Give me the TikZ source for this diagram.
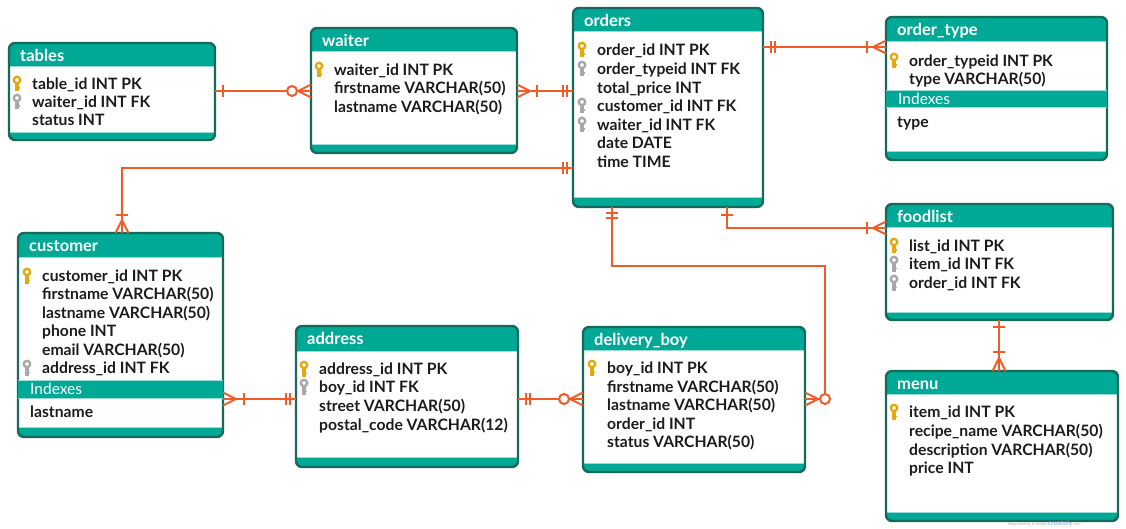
\documentclass[tikz,border=0pt]{standalone}
\usepackage{fontspec}
\setmainfont{Lato}
\usetikzlibrary{calc}
\definecolor{hdr}{HTML}{00A896}
\definecolor{bord}{HTML}{17695A}
\definecolor{rel}{HTML}{F15A29}
\definecolor{keyg}{HTML}{E3A911}
\definecolor{keyf}{HTML}{A8A8A8}
\definecolor{txt}{HTML}{1C1C1C}
\definecolor{sepc}{HTML}{9ADBD3}
\definecolor{wmblue}{HTML}{7FA7D6}
\tikzset{
  erline/.style={draw=rel, line width=2pt},
  outline/.style={draw=bord, line width=2.4pt, rounded corners=6pt, inner sep=0pt, outer sep=0pt},
  hdrtext/.style={text=white, font=\fontsize{16.5}{18}\selectfont\bfseries, anchor=base west, inner sep=0pt},
  fldtext/.style={text=txt, font=\fontsize{15.7}{18}\selectfont\bfseries, anchor=base west, inner sep=0pt},
  idxtext/.style={text=white, font=\fontsize{15.5}{17}\selectfont, anchor=base west, inner sep=0pt},
  wmtext/.style={text=black!30, font=\fontsize{4}{5}\selectfont, anchor=base west, inner sep=0pt},
}
% table: name, x1, y1, x2, y2, header bottom, bottom band top, title
\newcommand\ertab[8]{%
  \fill[hdr, rounded corners=6pt] (#2,#3) rectangle (#4,#5);
  \fill[white] (#2,#6) rectangle (#4,#7);
  \draw[sepc, line width=1pt] (#2,#6) -- (#4,#6) (#2,#7) -- (#4,#7);
  \node[outline, anchor=north west, minimum width={(#4-#2)*1pt}, minimum height={(#5-#3)*1pt}] (#1) at (#2,#3) {};
  \node[hdrtext] (#1-title) at ({#2+11},{#3+18.5}) {#8};
}
% index band: name, x1, x2, y1, y2
\newcommand\eridx[5]{%
  \fill[hdr] (#2,#4) rectangle (#3,#5);
  \draw[sepc, line width=1pt] (#2,#4) -- (#3,#4) (#2,#5) -- (#3,#5);
  \node[idxtext] (#1) at ({#2+12},{#5-3.5}) {Indexes};
}
\newcommand\erkey[3]{%
  \draw[#1, line width=2.4pt] ({#2},{#3-4}) circle[radius=3.2];
  \fill[#1] ({#2-1.6},{#3-1}) rectangle ({#2+1.6},{#3+7.5});
  \fill[#1] ({#2+1.6},{#3+3.5}) rectangle ({#2+3.2},{#3+5.3});
}
% field: node name, text x, row centre y, key (0 none,1 pk,2 fk), text
\newcommand\erfld[5]{%
  \node[fldtext] (#1) at (#2,{#3+5.8}) {#5};
  \ifcase#4\or\erkey{keyg}{#2-15}{#3}\or\erkey{keyf}{#2-15}{#3}\fi
}
% relation marks: coordinate, ux, uy, distance
\newcommand\erbar[4]{%
  \draw[erline] ($(#1)+({#4*(#2)+6*(#3)},{#4*(#3)-6*(#2)})$) -- ($(#1)+({#4*(#2)-6*(#3)},{#4*(#3)+6*(#2)})$);}
\newcommand\ercrow[3]{%
  \draw[erline] ($(#1)+({6.5*(#3)},{-6.5*(#2)})$) -- ($(#1)+({13*(#2)},{13*(#3)})$) -- ($(#1)+({-6.5*(#3)},{6.5*(#2)})$);}
\newcommand\ercirc[4]{%
  \draw[erline, fill=white] ($(#1)+({#4*(#2)},{#4*(#3)})$) circle[radius=5];}
\begin{document}
\begin{tikzpicture}[x=1pt, y=-1pt]
\useasboundingbox[fill=white] (0,0) rectangle (1126,529);

% ---------- tables ----------
\ertab{tables}{9}{43}{215}{140}{67}{133}{tables}
\erfld{tables-1}{32}{84}{1}{table\_id INT PK}
\erfld{tables-2}{32}{102}{2}{waiter\_id INT FK}
\erfld{tables-3}{32}{120}{0}{status INT}

\ertab{waiter}{311}{28}{517}{153}{52}{145}{waiter}
\erfld{waiter-1}{334}{70}{1}{waiter\_id INT PK}
\erfld{waiter-2}{334}{88}{0}{firstname VARCHAR(50)}
\erfld{waiter-3}{334}{107}{0}{lastname VARCHAR(50)}

\ertab{orders}{573}{8}{763}{207}{32}{198}{orders}
\erfld{orders-1}{597}{50}{1}{order\_id INT PK}
\erfld{orders-2}{597}{69}{2}{order\_typeid INT FK}
\erfld{orders-3}{597}{88}{0}{total\_price INT}
\erfld{orders-4}{597}{106}{2}{customer\_id INT FK}
\erfld{orders-5}{597}{125}{2}{waiter\_id INT FK}
\erfld{orders-6}{597}{143}{0}{date DATE}
\erfld{orders-7}{597}{162}{0}{time TIME}

\ertab{ordertype}{886}{17}{1107}{160}{42}{152}{order\_type}
\erfld{ordertype-1}{909}{61}{1}{order\_typeid INT PK}
\erfld{ordertype-2}{909}{79}{0}{type VARCHAR(50)}
\eridx{ordertype-idx}{886}{1107}{91}{108}
\erfld{ordertype-i1}{897}{122}{0}{type}

\ertab{foodlist}{886}{204}{1113}{320}{228}{312}{foodlist}
\erfld{foodlist-1}{909}{246}{1}{list\_id INT PK}
\erfld{foodlist-2}{909}{264}{2}{item\_id INT FK}
\erfld{foodlist-3}{909}{283}{2}{order\_id INT FK}

\ertab{menu}{886}{371}{1118}{521}{394}{512}{menu}
\erfld{menu-1}{909}{412}{1}{item\_id INT PK}
\erfld{menu-2}{909}{431}{0}{recipe\_name VARCHAR(50)}
\erfld{menu-3}{909}{450}{0}{description VARCHAR(50)}
\erfld{menu-4}{909}{468}{0}{price INT}

\ertab{customer}{18}{233}{223}{437}{257}{427}{customer}
\erfld{customer-1}{42}{276}{1}{customer\_id INT PK}
\erfld{customer-2}{42}{294}{0}{firstname VARCHAR(50)}
\erfld{customer-3}{42}{313}{0}{lastname VARCHAR(50)}
\erfld{customer-4}{42}{331}{0}{phone INT}
\erfld{customer-5}{42}{350}{0}{email VARCHAR(50)}
\erfld{customer-6}{42}{368}{2}{address\_id INT FK}
\eridx{customer-idx}{18}{223}{380}{398}
\erfld{customer-i1}{30}{412}{0}{lastname}

\ertab{address}{296}{326}{518}{467}{351}{457}{address}
\erfld{address-1}{319}{369}{1}{address\_id INT PK}
\erfld{address-2}{319}{387}{2}{boy\_id INT FK}
\erfld{address-3}{319}{406}{0}{street VARCHAR(50)}
\erfld{address-4}{319}{425}{0}{postal\_code VARCHAR(12)}

\ertab{delivery}{583}{327}{805}{472}{350}{463}{delivery\_boy}
\erfld{delivery-1}{607}{368}{1}{boy\_id INT PK}
\erfld{delivery-2}{607}{387}{0}{firstname VARCHAR(50)}
\erfld{delivery-3}{607}{405}{0}{lastname VARCHAR(50)}
\erfld{delivery-4}{607}{424}{0}{order\_id INT}
\erfld{delivery-5}{607}{442}{0}{status VARCHAR(50)}

% ---------- relations ----------
% tables - waiter
\coordinate (r1a) at (tables.east |- 0,91);
\coordinate (r1b) at (waiter.west |- 0,91);
\draw[erline] (r1a) -- (r1b);
\erbar{r1a}{1}{0}{8}
\ercrow{r1b}{-1}{0}
\ercirc{r1b}{-1}{0}{19}

% waiter - orders
\coordinate (r2a) at (waiter.east |- 0,91);
\coordinate (r2b) at (orders.west |- 0,91);
\draw[erline] (r2a) -- (r2b);
\ercrow{r2a}{1}{0}
\erbar{r2a}{1}{0}{20}
\erbar{r2b}{-1}{0}{6}
\erbar{r2b}{-1}{0}{10}

% orders - order_type
\coordinate (r3a) at (orders.east |- 0,47);
\coordinate (r3b) at (ordertype.west |- 0,47);
\draw[erline] (r3a) -- (r3b);
\erbar{r3a}{1}{0}{8}
\erbar{r3a}{1}{0}{12}
\erbar{r3b}{-1}{0}{19}
\ercrow{r3b}{-1}{0}

% orders - customer
\coordinate (r4a) at (orders.west |- 0,168);
\coordinate (r4b) at (122,0 |- customer.north);
\draw[erline] (r4a) -| (r4b);
\erbar{r4a}{-1}{0}{6}
\erbar{r4a}{-1}{0}{10}
\erbar{r4b}{0}{-1}{18}
\ercrow{r4b}{0}{-1}

% orders - delivery_boy
\coordinate (r5a) at (612,0 |- orders.south);
\coordinate (r5b) at (delivery.east |- 0,399);
\coordinate (r5c) at ($(r5b)+(20,0)$);
\draw[erline] (r5a) |- (r5c |- 0,266) -- (r5c) -- (r5b);
\erbar{r5a}{0}{1}{6}
\erbar{r5a}{0}{1}{11}
\ercrow{r5b}{1}{0}
\ercirc{r5b}{1}{0}{20}

% orders - foodlist
\coordinate (r6a) at (727,0 |- orders.south);
\coordinate (r6b) at (foodlist.west |- 0,228);
\draw[erline] (r6a) |- (r6b);
\erbar{r6a}{0}{1}{8}
\erbar{r6b}{-1}{0}{19}
\ercrow{r6b}{-1}{0}

% foodlist - menu
\coordinate (r7a) at (999,0 |- foodlist.south);
\coordinate (r7b) at (999,0 |- menu.north);
\draw[erline] (r7a) -- (r7b);
\erbar{r7a}{0}{1}{7}
\erbar{r7b}{0}{-1}{19}
\ercrow{r7b}{0}{-1}

% customer - address
\coordinate (r8a) at (customer.east |- 0,399);
\coordinate (r8b) at (address.west |- 0,399);
\draw[erline] (r8a) -- (r8b);
\ercrow{r8a}{1}{0}
\erbar{r8a}{1}{0}{21}
\erbar{r8b}{-1}{0}{6}
\erbar{r8b}{-1}{0}{10}

% address - delivery_boy
\coordinate (r9a) at (address.east |- 0,399);
\coordinate (r9b) at (delivery.west |- 0,399);
\draw[erline] (r9a) -- (r9b);
\erbar{r9a}{1}{0}{8}
\erbar{r9a}{1}{0}{12}
\ercrow{r9b}{-1}{0}
\ercirc{r9b}{-1}{0}{19}

% watermark
\node[wmtext] (wm) at (1008,525) {diagramming \& design \textcolor{wmblue}{\fontsize{7}{7}\selectfont creately}.com};
\end{tikzpicture}
\end{document}
